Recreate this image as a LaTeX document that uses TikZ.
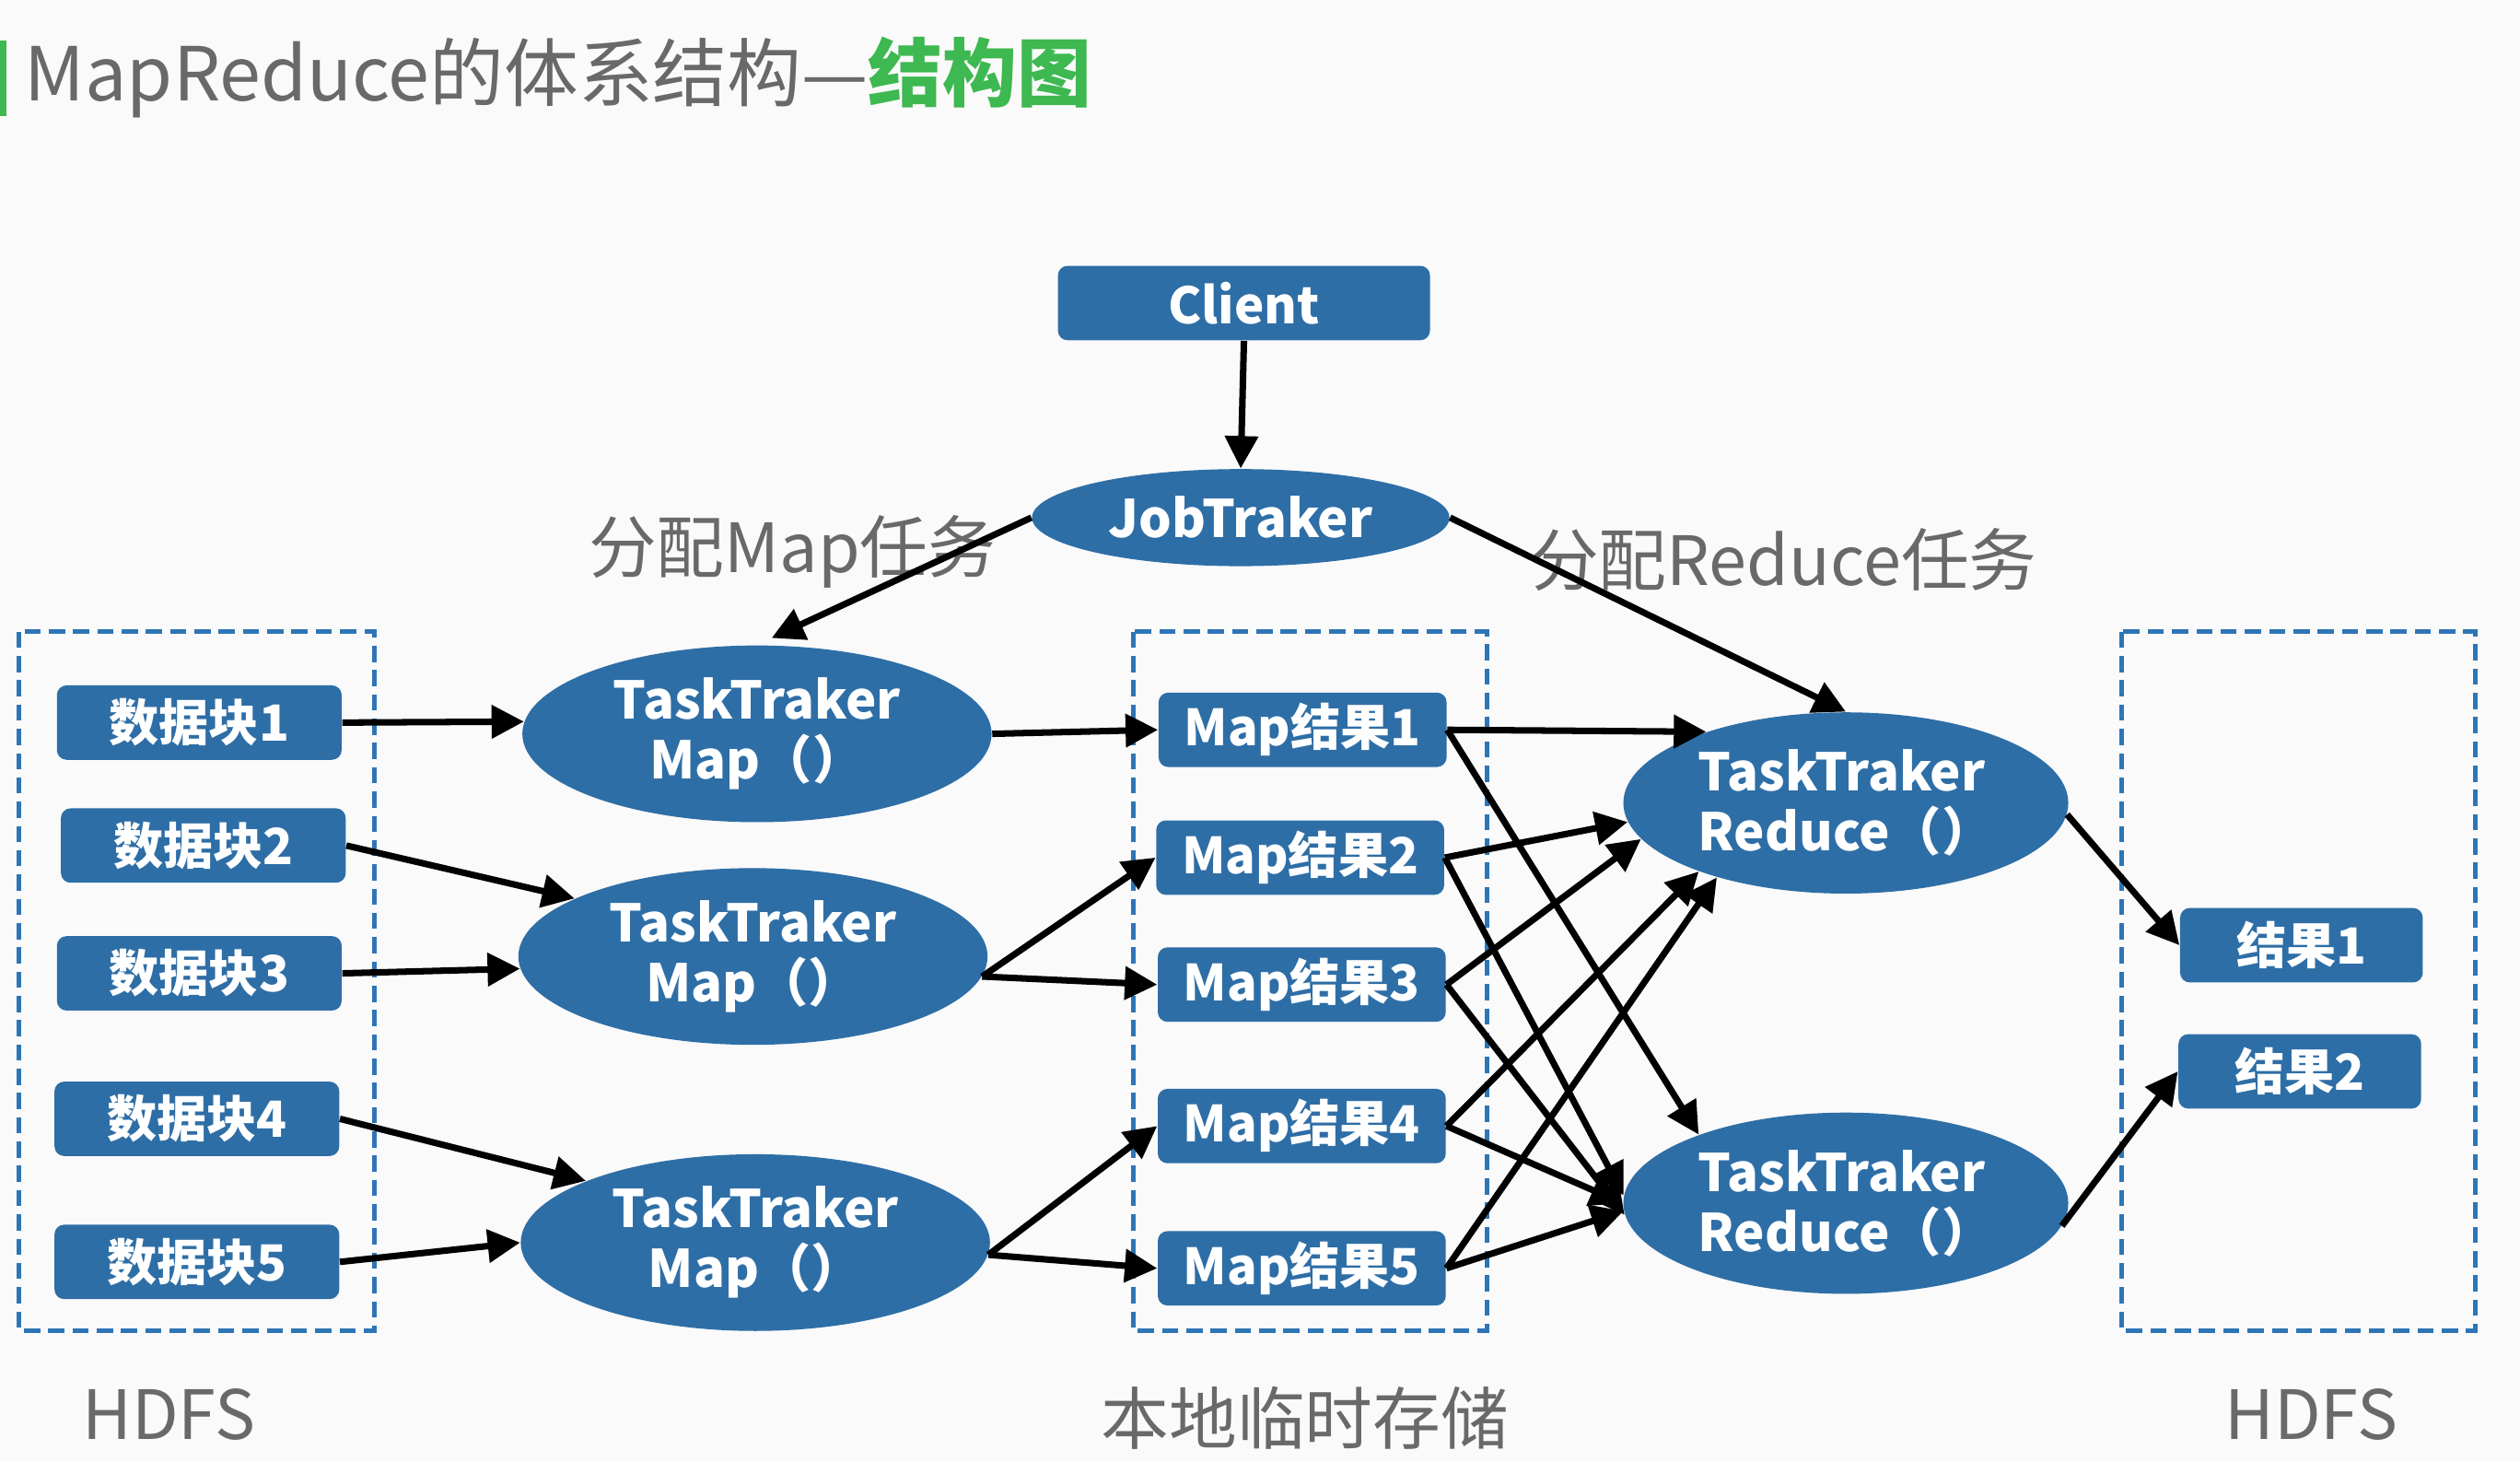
\documentclass[tikz,border=0pt]{standalone}
\usepackage{fontspec}
\setmainfont{Noto Sans CJK SC}
\usetikzlibrary{shapes.geometric,arrows.meta}
\definecolor{boxblue}{RGB}{46,110,166}
\definecolor{dashblue}{RGB}{46,117,182}
\definecolor{labelgray}{RGB}{105,105,105}
\definecolor{titlegreen}{RGB}{62,184,80}
\definecolor{bggray}{RGB}{250,250,250}

\begin{document}
\begin{tikzpicture}[x=0.01745cm, y=-0.01745cm,
  blk/.style={fill=boxblue, rounded corners=3pt, text=white, minimum width=88pt, minimum height=23pt, inner sep=0pt, font=\fontsize{15.4pt}{17pt}\selectfont\bfseries},
  tt/.style={ellipse, fill=boxblue, text=white, inner sep=0pt, font=\fontsize{16pt}{18.5pt}\selectfont\bfseries},
  lbl/.style={text=labelgray, font=\fontsize{21pt}{24pt}\selectfont},
  area/.style={draw=dashblue, line width=1.4pt, dash pattern=on 5pt off 2.5pt},
  arr/.style={-{Triangle[length=10pt,width=10pt]}, line width=2pt, black}]
\useasboundingbox (0,0) rectangle (1568,909);
\fill[bggray] (0,0) rectangle (1568,909);

% title
\fill[titlegreen] (0,25) rectangle (4,72);
\node[anchor=west, inner sep=0pt, text=labelgray, font=\fontsize{23pt}{25pt}\selectfont] (title) at (15,48) {MapReduce的体系结构—{\bfseries\color{titlegreen}结构图}};

% dashed areas
\draw[area] (12,393) rectangle (233,828);
\draw[area] (705,393) rectangle (925,828);
\draw[area] (1320,393) rectangle (1540,828);

\node[blk, minimum width=115pt, font=\fontsize{15.5pt}{17pt}\selectfont\bfseries] (client) at (774,188.5) {Client};
\node[tt, minimum width=129pt, minimum height=30pt] (job) at (772,322) {JobTraker};

\node[blk] (blk1) at (124,449.5) {数据块1};
\node[blk] (blk2) at (126.5,526) {数据块2};
\node[blk] (blk3) at (124,605.5) {数据块3};
\node[blk] (blk4) at (122.5,696) {数据块4};
\node[blk] (blk5) at (122.5,785) {数据块5};

\node[tt, align=center, minimum width=145pt, minimum height=54.6pt] (map1) at (471,456.5) {TaskTraker\\Map（）};
\node[tt, align=center, minimum width=145pt, minimum height=54.6pt] (map2) at (468.5,595) {TaskTraker\\Map（）};
\node[tt, align=center, minimum width=145pt, minimum height=54.6pt] (map3) at (470,773) {TaskTraker\\Map（）};

\node[blk, minimum width=89pt] (res1) at (810.5,454) {Map结果1};
\node[blk, minimum width=89pt] (res2) at (809,533.5) {Map结果2};
\node[blk, minimum width=89pt] (res3) at (810,612.5) {Map结果3};
\node[blk, minimum width=89pt] (res4) at (810,700.5) {Map结果4};
\node[blk, minimum width=89pt] (res5) at (810,789) {Map结果5};

\node[tt, align=left, minimum width=137.5pt, minimum height=56pt] (red1) at (1148.5,499.5) {TaskTraker\\Reduce（）};
\node[tt, align=left, minimum width=137.5pt, minimum height=56pt] (red2) at (1148.5,748.5) {TaskTraker\\Reduce（）};

\node[blk, minimum width=75pt] (out1) at (1432,588) {结果1};
\node[blk, minimum width=75pt] (out2) at (1431,666.5) {结果2};

\node[lbl] (lmap) at (493,343) {分配Map任务};
\node[lbl] (lred) at (1110,348) {分配Reduce任务};
\node[lbl] (hdfs1) at (105,880) {HDFS};
\node[lbl] (local) at (812,882) {本地临时存储};
\node[lbl] (hdfs2) at (1438,880) {HDFS};

\draw (client.south) edge[arr] (job.north);
\draw (job.west) edge[arr, shorten >=5pt] (map1.north);
\draw (job.east) edge[arr] (red1.north);

\draw (blk1.east) edge[arr] (map1.177);
\draw (blk2.east) edge[arr] (map2.162);
\draw (blk3.east) edge[arr] (map2.183);
\draw (blk4.east) edge[arr] (map3.160);
\draw (blk5.east) edge[arr] (map3.west);

\draw (map1.east) edge[arr] (res1.west);
\draw (map2.-5) edge[arr] (res2.west);
\draw (map2.-5) edge[arr] (res3.west);
\draw (map3.-3) edge[arr] (res4.west);
\draw (map3.-3) edge[arr] (res5.west);

\draw (res1.east) edge[arr] (red1.153);
\draw (res1.east) edge[arr] (red2.155);
\draw (res2.east) edge[arr] (red1.185);
\draw (res2.east) edge[arr] (red2.178);
\draw (res3.east) edge[arr] (red1.190);
\draw (res3.east) edge[arr] (red2.183);
\draw (res4.east) edge[arr] (red1.205);
\draw (res4.east) edge[arr] (red2.180);
\draw (res5.east) edge[arr] (red1.210);
\draw (res5.east) edge[arr] (red2.182);

\draw (red1.-3) edge[arr] (out1.west);
\draw (red2.-6) edge[arr] (out2.west);
\end{tikzpicture}
\end{document}
